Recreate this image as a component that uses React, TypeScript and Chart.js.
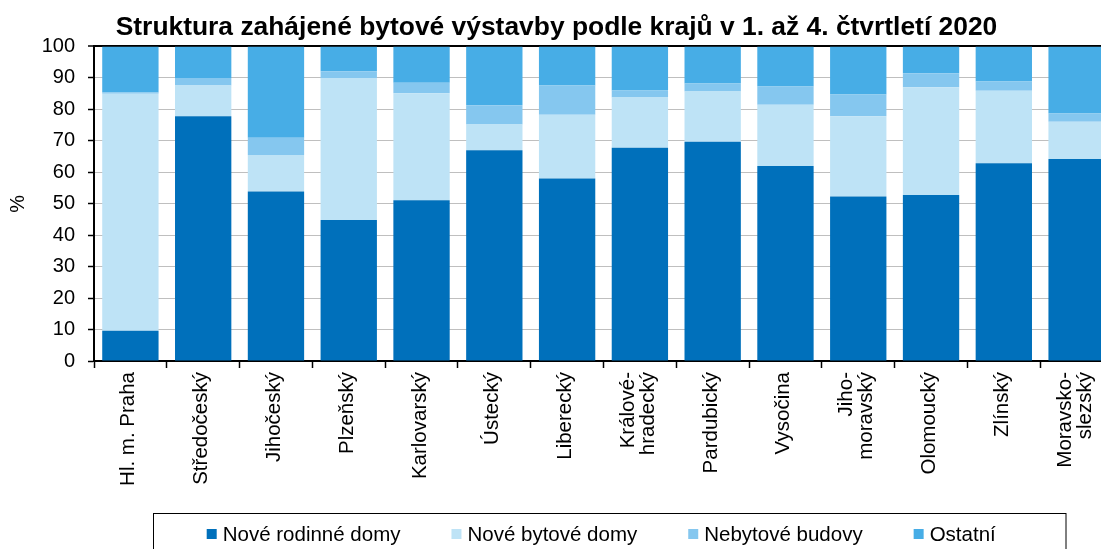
import { useEffect, useRef } from 'react';
import { Chart, registerables } from 'chart.js';

Chart.register(...registerables);

const categories: (string | string[])[] = [
  'Hl. m. Praha',
  'Středočeský',
  'Jihočeský',
  'Plzeňský',
  'Karlovarský',
  'Ústecký',
  'Liberecký',
  ['Králové-', 'hradecký'],
  'Pardubický',
  'Vysočina',
  ['Jiho-', 'moravský'],
  'Olomoucký',
  'Zlínský',
  ['Moravsko-', 'slezský'],
];

const seriesNames = ['Nové rodinné domy', 'Nové bytové domy', 'Nebytové budovy', 'Ostatní'];

const noveRodinneDomy = [9.6, 77.8, 53.9, 44.8, 51.1, 67.0, 58.0, 67.8, 69.7, 62.0, 52.3, 52.8, 62.9, 64.2];
const noveBytoveDomy = [75.4, 9.8, 11.6, 45.0, 34.0, 8.2, 20.3, 16.0, 16.0, 19.5, 25.5, 34.2, 23.0, 11.9];
const nebytoveBudovy = [0.4, 2.4, 5.5, 2.3, 3.4, 6.1, 9.3, 2.2, 2.5, 5.8, 6.9, 4.5, 3.0, 2.6];
const ostatni = [14.6, 10.0, 29.0, 7.9, 11.5, 18.7, 12.4, 14.0, 11.8, 12.7, 15.3, 8.5, 11.1, 21.3];

const seriesColors = ['#0070BB', '#BEE3F6', '#85C7EF', '#47ADE6'];

const titleText = 'Struktura zahájené bytové výstavby podle krajů v 1. až 4. čtvrtletí 2020';
const yAxisTitle = '%';

const FONT = '"Liberation Sans", Arial, Helvetica, sans-serif';

// Draws the rotated category labels under the x axis (positions from the x scale)
const rotatedLabels = {
  id: 'rotatedLabels',
  afterDraw(chart: any) {
    const ctx = chart.ctx as CanvasRenderingContext2D;
    const xScale = chart.scales.x;
    const labels = chart.data.labels as (string | string[])[];
    const top = chart.chartArea.bottom + 11;
    const lineStep = 20;
    ctx.save();
    ctx.font = `20.5px ${FONT}`;
    ctx.fillStyle = '#000';
    ctx.textAlign = 'right';
    ctx.textBaseline = 'alphabetic';
    labels.forEach((lab, i) => {
      const lines = Array.isArray(lab) ? lab : [lab];
      const cx = xScale.getPixelForValue(i);
      const n = lines.length;
      lines.forEach((line, k) => {
        const bx = cx + (k - (n - 1) / 2) * lineStep + 4;
        ctx.save();
        ctx.translate(bx, top);
        ctx.rotate(-Math.PI / 2);
        ctx.fillText(line, 0, 0);
        ctx.restore();
      });
    });
    ctx.restore();
  },
};

const boxLegend = {
  id: 'boxLegend',
  afterDraw(chart: any) {
    const ctx = chart.ctx as CanvasRenderingContext2D;
    ctx.save();
    ctx.strokeStyle = '#000';
    ctx.lineWidth = 1;
    ctx.strokeRect(153.5, 513.5, 912.5, 80);
    ctx.font = `20.5px ${FONT}`;
    ctx.textBaseline = 'alphabetic';
    ctx.textAlign = 'left';
    let x = 206.7;
    chart.data.datasets.forEach((ds: any) => {
      ctx.fillStyle = ds.backgroundColor;
      ctx.fillRect(x, 529, 10, 10);
      ctx.fillStyle = '#000';
      ctx.fillText(ds.label, x + 16, 540.5);
      x += 16 + ctx.measureText(ds.label).width + 51;
    });
    ctx.restore();
  },
};

export default function App() {
  const ref = useRef<HTMLCanvasElement | null>(null);

  useEffect(() => {
    if (!ref.current) return;
    const values = [noveRodinneDomy, noveBytoveDomy, nebytoveBudovy, ostatni];
    const chart = new Chart(ref.current, {
      type: 'bar',
      data: {
        labels: categories,
        datasets: seriesNames.map((name, i) => ({
          label: name,
          data: values[i],
          backgroundColor: seriesColors[i],
          borderWidth: 0,
          barPercentage: 0.774,
          categoryPercentage: 1,
        })),
      },
      options: {
        responsive: false,
        animation: false,
        devicePixelRatio: 1,
        layout: { padding: { top: 0, left: 0, right: 7, bottom: 44 } },
        plugins: {
          legend: { display: false },
          tooltip: { enabled: false },
          title: {
            display: true,
            text: titleText,
            color: '#000',
            font: { family: FONT, size: 26.4, weight: 'bold', lineHeight: 1.2 },
            padding: { top: 12, bottom: 2.8 },
          },
        },
        scales: {
          x: {
            stacked: true,
            border: { display: true, color: '#000', width: 2 },
            grid: {
              display: true,
              offset: true,
              drawOnChartArea: false,
              drawTicks: true,
              tickLength: 7,
              tickColor: '#000',
              tickWidth: 1.5,
            },
            ticks: {
              display: false,
              autoSkip: false,
            },
            afterFit(scale: any) {
              scale.height = 144;
              scale.paddingLeft = 0;
              scale.paddingRight = 0;
            },
          },
          y: {
            stacked: true,
            min: 0,
            max: 100,
            border: { display: true, color: '#000', width: 2 },
            grid: {
              color: (c: any) => (c.tick && c.tick.value === 100 ? '#000' : '#BFBFBF'),
              lineWidth: (c: any) => (c.tick && c.tick.value === 100 ? 2 : 1),
              tickLength: 6,
              tickColor: '#000',
              tickWidth: 1.5,
            },
            ticks: {
              stepSize: 10,
              padding: 13,
              color: '#000',
              font: { family: FONT, size: 20 },
            },
            title: {
              display: true,
              text: yAxisTitle,
              color: '#000',
              font: { family: FONT, size: 20 },
              padding: { top: 6, bottom: 0 },
            },
            afterFit(scale: any) {
              scale.width = 94;
            },
          },
        },
      },
      plugins: [rotatedLabels, boxLegend],
    });
    return () => chart.destroy();
  }, []);

  return (
    <div
      style={{
        position: 'fixed',
        left: 0,
        top: 0,
        width: 1101,
        height: 549,
        overflow: 'hidden',
        background: '#fff',
      }}
    >
      <canvas ref={ref} width={1120} height={549} style={{ width: 1120, height: 549, display: 'block' }} />
    </div>
  );
}
